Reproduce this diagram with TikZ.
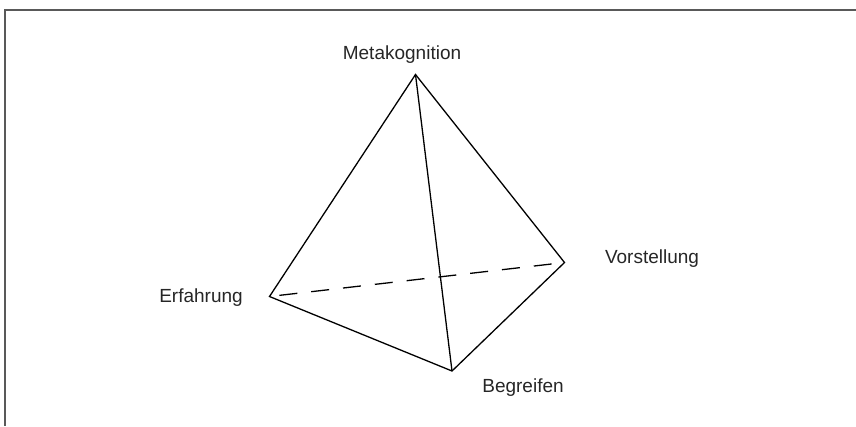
\documentclass[tikz,border=0pt]{standalone}
\usepackage{fontspec}
\setmainfont{Liberation Sans}
\begin{document}
\begin{tikzpicture}[x=1pt,y=-1pt]
	\tikzstyle{edge} = [draw, line width=1.3pt, line join=miter];
	\tikzstyle{hidden} = [edge, dash pattern=on 18pt off 14pt, dash phase=22pt];
	\tikzstyle{lab} = [anchor=base, inner sep=0pt, text=black!85, font=\fontsize{19}{22}\selectfont];
	\useasboundingbox (0,0) rectangle (856,426);
	% frame, only top and left
	\draw[black!65, line width=1.6pt] (856,10) -- (5,10) -- (5,426);
	% corners of the tetrahedron
	\coordinate (m) at (415.5,74.5);
	\coordinate (e) at (269.5,296.5);
	\coordinate (v) at (564.5,262.5);
	\coordinate (b) at (452,371);
	\node[lab,name=meta] at (402,59) { Metakognition };
	\node[lab,name=erf] at (201,302) { Erfahrung };
	\node[lab,name=vorst] at (652,263) { Vorstellung };
	\node[lab,name=begr] at (523,392) { Begreifen };
	\path[edge] (m) -- (e) -- (b) -- (v) -- cycle;
	\path[edge] (m) -- (b);
	\path[hidden] (e) -- (v);
\end{tikzpicture}
\end{document}
